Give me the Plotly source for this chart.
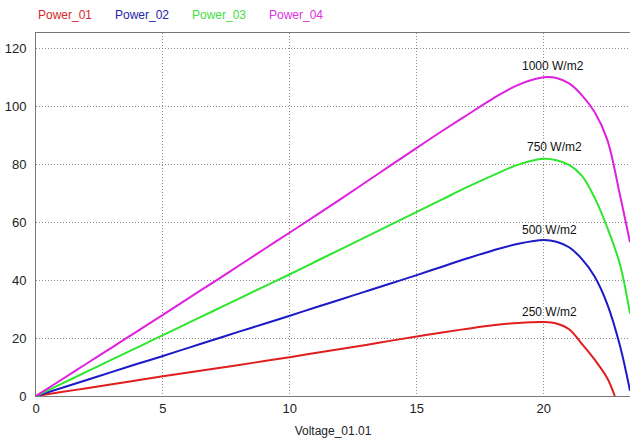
import plotly.graph_objects as go

# Module voltage (V) shared by all four power curves
voltage = [0, 1, 2, 3, 4, 5, 6, 7, 8, 9, 10, 11, 12, 13, 14, 15, 16, 17, 18, 19, 20,
           20.5, 21, 21.5, 22, 22.5, 23, 23.4]

# Power (W) at each voltage; None past the open-circuit point
power_01 = [0, 1.35, 2.7, 4.05, 5.4, 6.8, 8.1, 9.4, 10.7, 12.05, 13.4, 14.8, 16.2, 17.6,
            19.1, 20.5, 21.9, 23.2, 24.4, 25.2, 25.5,
            25.0, 23.0, 18.0, 12.6, 6.2, None, None]
power_02 = [0, 2.77, 5.54, 8.31, 11.1, 13.8, 16.6, 19.4, 22.2, 24.9, 27.7, 30.5, 33.3, 36.1,
            38.9, 41.7, 44.6, 47.5, 50.2, 52.5, 53.8,
            53.2, 51.3, 47.3, 41.3, 31.8, 17.5, 1.8]
power_03 = [0, 4.2, 8.4, 12.6, 16.8, 21.0, 25.2, 29.4, 33.6, 37.8, 42.0, 46.3, 50.6, 54.9,
            59.2, 63.5, 67.8, 72.1, 76.1, 79.8, 81.8,
            81.3, 79.7, 76.0, 68.5, 58.2, 45.5, 28.4]
power_04 = [0, 5.6, 11.2, 16.8, 22.4, 28.0, 33.7, 39.3, 45.0, 50.7, 56.4, 62.1, 67.9, 73.8,
            79.7, 85.6, 91.4, 97.0, 102.6, 107.3, 109.9,
            109.7, 107.8, 103.8, 98.0, 88.5, 69.5, 53.0]

# Open-circuit end of the lowest-irradiance curve
voc_01 = 22.8

series_names = ["Power_01", "Power_02", "Power_03", "Power_04"]
line_colors = ["#e01e1e", "#1a1ac8", "#2ee62e", "#e020e0"]
label_colors = ["#d42a2a", "#2424a8", "#44dd44", "#dd33dd"]

# Irradiance labels placed above each curve's peak
irr_labels = ["250 W/m2", "500 W/m2", "750 W/m2", "1000 W/m2"]
irr_x = [20.22, 20.22, 20.41, 20.37]
irr_y = [29.0, 57.1, 85.8, 113.7]

x_ticks = [0, 5, 10, 15, 20]
y_ticks = [0, 20, 40, 60, 80, 100, 120]

FONT = "Liberation Sans Narrow, Arial Narrow, Liberation Sans, Arial, sans-serif"

curves = []
for ps in [power_01, power_02, power_03, power_04]:
    xs = [v for v, p in zip(voltage, ps) if p is not None]
    ys = [p for p in ps if p is not None]
    curves.append((xs, ys))
# close the first curve at its open-circuit voltage
curves[0][0].append(voc_01)
curves[0][1].append(0)

fig = go.Figure()
for (xs, ys), name, col in zip(curves, series_names, line_colors):
    fig.add_trace(go.Scatter(x=xs, y=ys, mode="lines", name=name,
                             line=dict(color=col, width=2, shape="spline", smoothing=1.0),
                             showlegend=False, hoverinfo="skip"))

# Text-only legend across the top
legend_x = [0.0, 0.1296, 0.2593, 0.3889]
for name, col, lx in zip(series_names, label_colors, legend_x):
    fig.add_annotation(text=name, xref="paper", yref="paper", x=lx, y=1.0496,
                       xanchor="left", yanchor="middle", showarrow=False,
                       font=dict(family=FONT, size=12, color=col))

for txt, x, y in zip(irr_labels, irr_x, irr_y):
    fig.add_annotation(text=txt, x=x, y=y, xanchor="center", yanchor="middle",
                       showarrow=False, font=dict(family=FONT, size=12, color="#111"))

fig.update_layout(
    width=630, height=441,
    margin=dict(l=36, r=0, t=33, b=45),
    paper_bgcolor="white", plot_bgcolor="white",
    font=dict(family=FONT, size=13, color="#222"),
)
fig.update_xaxes(range=[0, 23.4], tickvals=x_ticks, ticks="", showgrid=True,
                 gridcolor="#8c8c8c", griddash="1px,2px", gridwidth=1,
                 showline=True, linecolor="#777", linewidth=1, mirror=True,
                 zeroline=False, tickfont=dict(size=13, color="#222"),
                 title=dict(text="Voltage_01.01", font=dict(size=12, color="#222"), standoff=12))
fig.update_yaxes(range=[0, 125.2], tickvals=y_ticks, ticks="", showgrid=True,
                 gridcolor="#8c8c8c", griddash="1px,2px", gridwidth=1,
                 showline=True, linecolor="#777", linewidth=1, ticklabelstandoff=6,
                 zeroline=False, tickfont=dict(size=13, color="#222"))

fig.write_html("out.html")
